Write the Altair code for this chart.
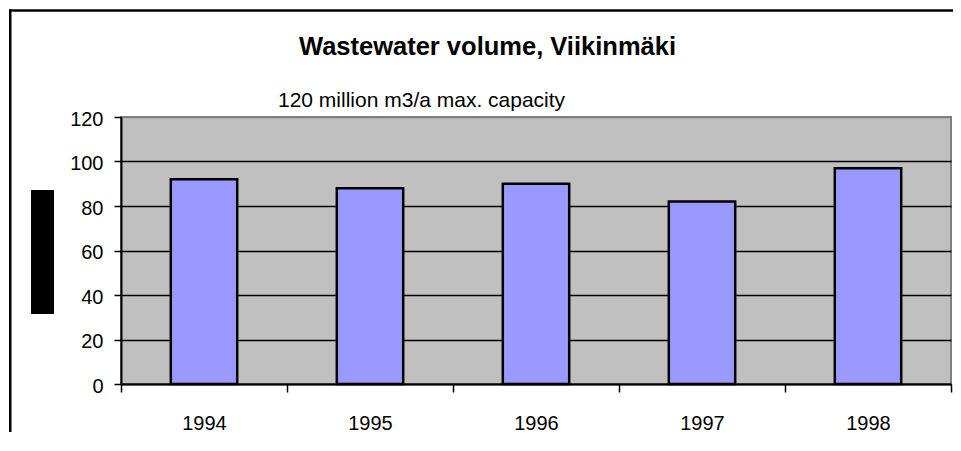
import altair as alt
import pandas as pd

years = ["1994", "1995", "1996", "1997", "1998"]
volumes = [92, 88, 90, 82, 97]
y_ticks = [0, 20, 40, 60, 80, 100, 120]
title_text = "Wastewater volume, Viikinmäki"
note_text = "120 million m3/a max. capacity"

FONT = "Liberation Sans"

df = pd.DataFrame({"year": years, "volume": volumes})
deco = alt.Data(values=[{"k": 1}])

bars = alt.Chart(df).mark_bar(
    color="#9999FF", stroke="black", strokeWidth=2.5,
    width=alt.RelativeBandSize(0.4)
).encode(
    x=alt.X("year:N", sort=years,
            scale=alt.Scale(paddingInner=0, paddingOuter=0),
            axis=alt.Axis(title=None, labelAngle=0, tickBand="extent",
                          tickSize=8, tickColor="black", tickWidth=1.5,
                          domainColor="black", domainWidth=2,
                          labelPadding=21, labelFontSize=20, labelFont=FONT,
                          labelColor="black", grid=False)),
    y=alt.Y("volume:Q", scale=alt.Scale(domain=[0, 120], nice=False),
            axis=alt.Axis(title=None, values=y_ticks, tickSize=7,
                          tickColor="black", tickWidth=1.5,
                          domainColor="black", domainWidth=2,
                          grid=True,
                          gridColor=alt.condition("datum.value >= 120",
                                                  alt.value("#808080"),
                                                  alt.value("black")),
                          gridWidth=1.5,
                          labelPadding=11, labelFontSize=20, labelFont=FONT,
                          labelColor="black", labelOffset=2)),
)

title_mark = alt.Chart(deco).mark_text(
    text=title_text, font=FONT, fontSize=25.5, fontWeight="bold",
    align="center", baseline="alphabetic", color="black"
).encode(x=alt.value(366.5), y=alt.value(-62))

note_mark = alt.Chart(deco).mark_text(
    text=note_text, font=FONT, fontSize=21,
    align="left", baseline="alphabetic", color="black"
).encode(x=alt.value(157), y=alt.value(-10))

black_box = alt.Chart(deco).mark_rect(color="black").encode(
    x=alt.value(-90), x2=alt.value(-67), y=alt.value(73), y2=alt.value(197)
)

border_top = alt.Chart(deco).mark_rule(color="black", strokeWidth=2.5).encode(
    x=alt.value(-112), x2=alt.value(832), y=alt.value(-106.5)
)
border_left = alt.Chart(deco).mark_rect(color="black").encode(
    x=alt.value(-112), x2=alt.value(-109.5), y=alt.value(-107.5), y2=alt.value(315)
)

chart = alt.layer(black_box, border_top, border_left, bars, title_mark, note_mark).properties(
    width=830, height=267,
    padding={"left": 113, "top": 109, "right": 2, "bottom": 48},
    autosize=alt.AutoSizeParams(type="none"),
    background="white",
).configure_view(
    fill="#C0C0C0", stroke="#808080", strokeWidth=2
)

chart.save("out.html", embed_options={"renderer": "svg", "actions": False})
